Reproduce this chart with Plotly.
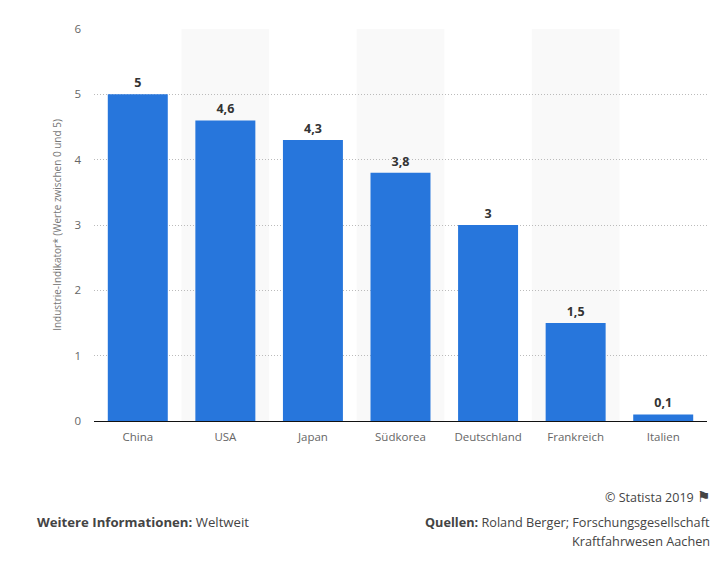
import plotly.graph_objects as go

categories = ["China", "USA", "Japan", "Südkorea", "Deutschland", "Frankreich", "Italien"]
values = [5, 4.6, 4.3, 3.8, 3, 1.5, 0.1]
value_labels = ["5", "4,6", "4,3", "3,8", "3", "1,5", "0,1"]
y_ticks = [0, 1, 2, 3, 4, 5, 6]
striped = [1, 3, 5]
y_title = "Industrie-Indikator* (Werte zwischen 0 und 5)"

FONT = "Open Sans, Noto Sans, sans-serif"
TEXT = "#444444"

def page_y(px):
    return 1 - (px - 28.5) / 392.5

fig = go.Figure(go.Bar(
    x=categories, y=values, text=value_labels, textposition="outside",
    textfont=dict(family=FONT, size=12.5, color="#333333", weight="bold"),
    cliponaxis=False, marker=dict(color="#2776DC", line=dict(width=0)),
    hoverinfo="skip", width=0.685,
))

shapes = [dict(type="rect", xref="x", yref="y", x0=i - 0.5, x1=i + 0.5, y0=0, y1=6,
               fillcolor="#F9F9F9", line=dict(width=0), layer="below") for i in striped]

annotations = [
    dict(text="© Statista 2019 <span style='font-family:DejaVu Sans;font-size:15px'>⚑</span>", xref="paper", yref="paper",
         x=1.0075, xanchor="right", y=page_y(497), yanchor="middle", showarrow=False,
         font=dict(family=FONT, size=12.5, color=TEXT)),
    dict(text="<b>Weitere Informationen:</b> Weltweit", xref="paper", yref="paper",
         x=-59 / 613, xanchor="left", y=page_y(522), yanchor="middle", showarrow=False,
         font=dict(family=FONT, size=13.2, color=TEXT)),
    dict(text="<b>Quellen:</b> Roland Berger; Forschungsgesellschaft",
         xref="paper", yref="paper", x=1.0075, xanchor="right",
         y=page_y(522), yanchor="middle", showarrow=False,
         font=dict(family=FONT, size=12.7, color=TEXT)),
    dict(text="Kraftfahrwesen Aachen",
         xref="paper", yref="paper", x=1.0075, xanchor="right",
         y=page_y(541), yanchor="middle", showarrow=False,
         font=dict(family=FONT, size=12.7, color=TEXT)),
]

fig.update_layout(
    width=717, height=583, autosize=False,
    margin=dict(l=94, r=10, t=28.5, b=162),
    paper_bgcolor="white", plot_bgcolor="white",
    showlegend=False, shapes=shapes, annotations=annotations,
    font=dict(family=FONT, color="#666666"),
    xaxis=dict(type="category", categoryorder="array", categoryarray=categories,
               range=[-0.5, 6.5], showline=True, linecolor="#111111", linewidth=1,
               ticks="", showgrid=False, zeroline=False, ticklabelstandoff=5,
               tickfont=dict(family=FONT, size=11.5, color="#666666")),
    yaxis=dict(range=[0, 6], tickvals=y_ticks, ticktext=[str(t) for t in y_ticks],
               showgrid=True, gridcolor="#BBBBBB", griddash="1px,2px", gridwidth=1,
               zeroline=False, showline=False, ticks="", ticklen=0, ticklabelstandoff=12,
               tickfont=dict(family=FONT, size=11.5, color="#666666"),
               title=dict(text=y_title, standoff=10,
                          font=dict(family=FONT, size=10, color="#777777"))),
)

fig.write_html("out.html", config=dict(displayModeBar=False),
               default_width="717px", default_height="583px",
               post_script="document.body.style.margin='0';")
